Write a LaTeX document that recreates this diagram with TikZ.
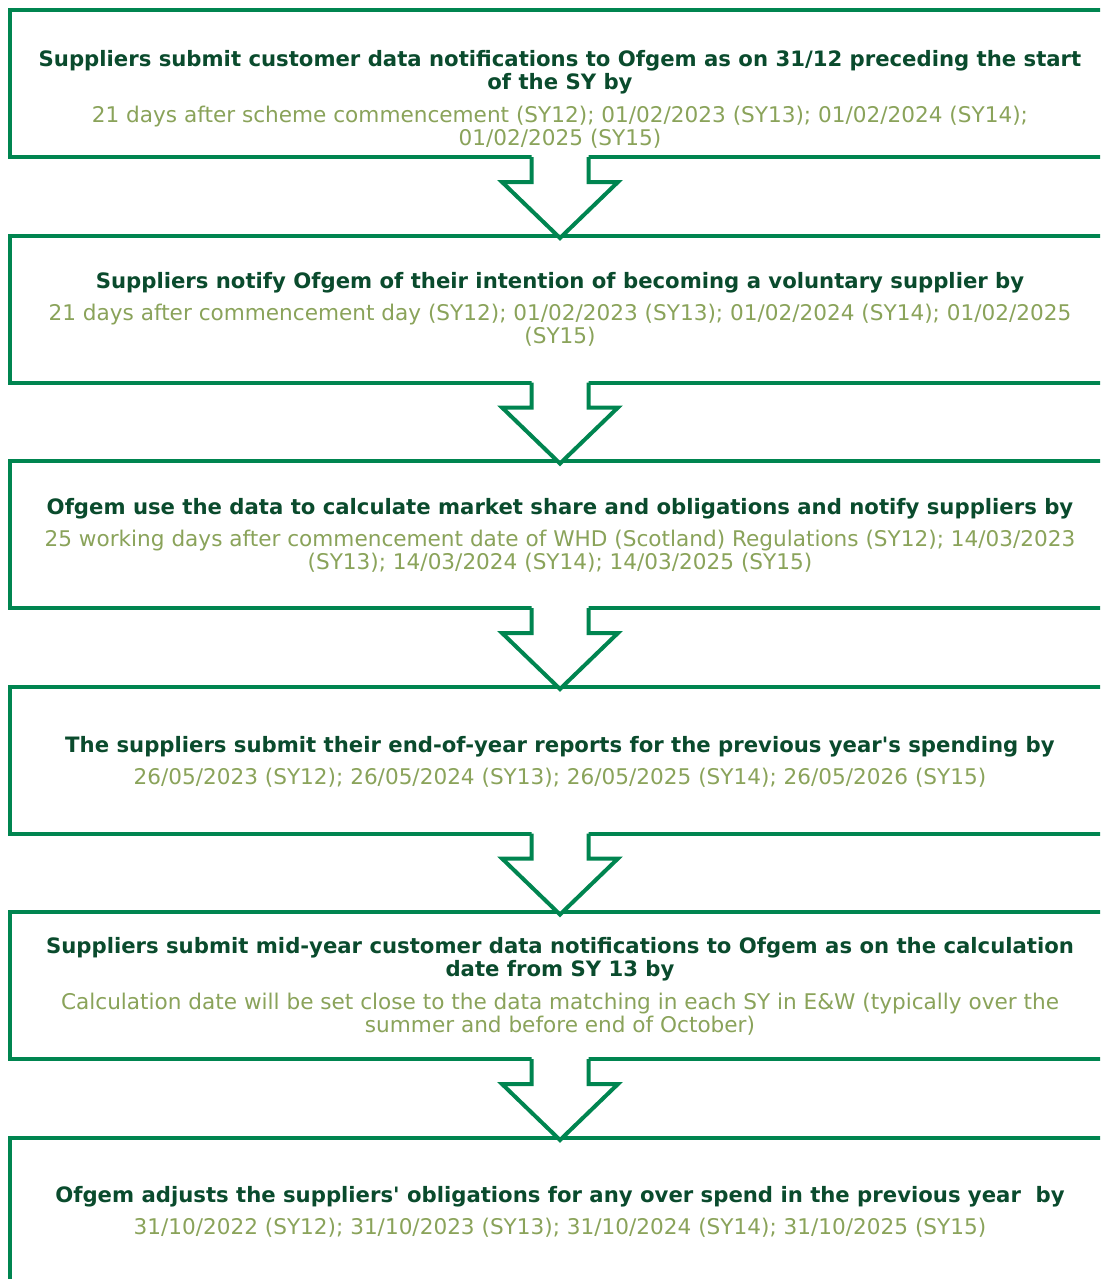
\documentclass[tikz,border=0pt]{standalone}
\usepackage{fontspec}
\setmainfont{DejaVu Sans}
\usetikzlibrary{calc}
\definecolor{framegreen}{RGB}{0,133,80}
\definecolor{headgreen}{RGB}{10,75,45}
\definecolor{dategreen}{RGB}{138,163,90}
\newcommand{\headfont}{\fontsize{10.6}{12}\selectfont\bfseries}
\newcommand{\datefont}{\fontsize{10.8}{12}\selectfont}
\begin{document}
\begin{tikzpicture}[x=0.5pt,y=-0.5pt,
  stagebox/.style={draw=framegreen, line width=2pt, fill=white, rectangle,
    minimum width=550pt, minimum height=73.5pt, inner sep=0pt, outer sep=0pt},
  headline/.style={font=\headfont, text=headgreen, anchor=base, inner sep=0pt},
  dateline/.style={font=\datefont, text=dategreen, anchor=base, inner sep=0pt},
  flowarrow/.style={draw=framegreen, line width=2pt, line join=miter}]
\useasboundingbox (0,0) rectangle (1100,1279);
\clip (0,0) rectangle (1100,1279);

% stage frames
\node[stagebox] (b1) at (560,83.5) {};
\node[stagebox] (b2) at (560,309) {};
\node[stagebox] (b3) at (560,534.5) {};
\node[stagebox] (b4) at (560,760) {};
\node[stagebox] (b5) at (560,985.5) {};
\node[stagebox] (b6) at (560,1211) {};

% hollow block arrows between consecutive stages
\foreach \s in {b1,b2,b3,b4,b5}{
  \fill[white] ($(\s.south)+(-28.5,-3)$) -- ($(\s.south)+(-28.5,25)$)
    -- ($(\s.south)+(-58,25)$) -- ($(\s.south)+(0,81)$)
    -- ($(\s.south)+(58,25)$) -- ($(\s.south)+(28.5,25)$)
    -- ($(\s.south)+(28.5,-3)$) -- cycle;
  \draw[flowarrow] ($(\s.south)+(-28.5,0)$) -- ($(\s.south)+(-28.5,25)$)
    -- ($(\s.south)+(-58,25)$) -- ($(\s.south)+(0,81)$)
    -- ($(\s.south)+(58,25)$) -- ($(\s.south)+(28.5,25)$)
    -- ($(\s.south)+(28.5,0)$);
}

% stage 1
\node[headline] (t1a) at (560,67) {Suppliers submit customer data notifications to Ofgem as on 31/12 preceding the start};
\node[headline] (t1b) at (560,90) {of the SY by};
\node[dateline] (d1a) at (560,123) {21 days after scheme commencement (SY12); 01/02/2023 (SY13); 01/02/2024 (SY14);};
\node[dateline] (d1b) at (560,146) {01/02/2025 (SY15)};

% stage 2
\node[headline] (t2a) at (560,288) {Suppliers notify Ofgem of their intention of becoming a voluntary supplier by};
\node[dateline] (d2a) at (560,320) {21 days after commencement day (SY12); 01/02/2023 (SY13); 01/02/2024 (SY14); 01/02/2025};
\node[dateline] (d2b) at (560,343) {(SY15)};

% stage 3
\node[headline] (t3a) at (560,514) {Ofgem use the data to calculate market share and obligations and notify suppliers by};
\node[dateline] (d3a) at (560,546) {25 working days after commencement date of WHD (Scotland) Regulations (SY12); 14/03/2023};
\node[dateline] (d3b) at (560,569) {(SY13); 14/03/2024 (SY14); 14/03/2025 (SY15)};

% stage 4
\node[headline] (t4a) at (560,752) {The suppliers submit their end-of-year reports for the previous year\textquotesingle s spending by};
\node[dateline] (d4a) at (560,784) {26/05/2023 (SY12); 26/05/2024 (SY13); 26/05/2025 (SY14); 26/05/2026 (SY15)};

% stage 5
\node[headline] (t5a) at (560,953) {Suppliers submit mid-year customer data notifications to Ofgem as on the calculation};
\node[headline] (t5b) at (560,976) {date from SY 13 by};
\node[dateline] (d5a) at (560,1009) {Calculation date will be set close to the data matching in each SY in E\&W (typically over the};
\node[dateline] (d5b) at (560,1032) {summer and before end of October)};

% stage 6
\node[headline] (t6a) at (560,1202) {Ofgem adjusts the suppliers\textquotesingle\ obligations for any over spend in the previous year\ \ by};
\node[dateline] (d6a) at (560,1234) {31/10/2022 (SY12); 31/10/2023 (SY13); 31/10/2024 (SY14); 31/10/2025 (SY15)};
\end{tikzpicture}
\end{document}
